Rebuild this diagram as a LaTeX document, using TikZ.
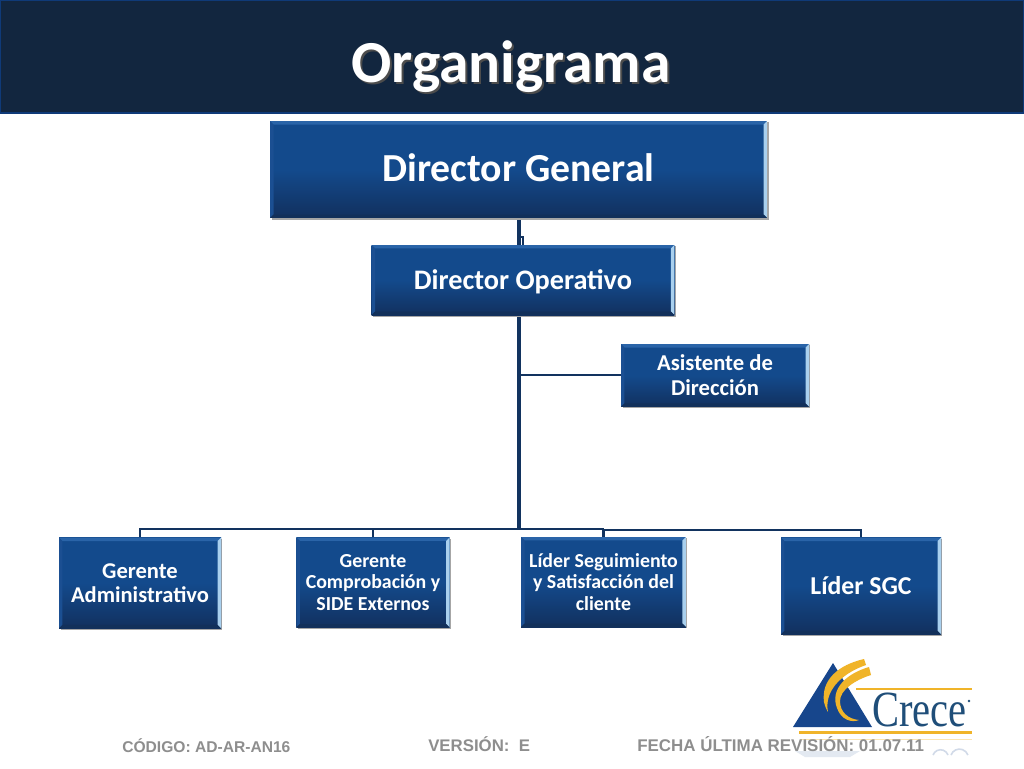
\documentclass[tikz,border=0pt]{standalone}
\usepackage{fontspec}
\setmainfont{Carlito}
\newfontfamily\footfont{Liberation Sans}
\newfontfamily\logofont{Liberation Serif}
\usetikzlibrary{shadows,calc}
\definecolor{band}{HTML}{12263F}
\definecolor{bandedge}{HTML}{0F3A78}
\definecolor{boxmid}{HTML}{134A8C}
\definecolor{boxbot}{HTML}{12305E}
\definecolor{bevtop}{HTML}{2A64A8}
\definecolor{bevright}{HTML}{A9D0EE}
\definecolor{bevleft}{HTML}{1B4F92}
\definecolor{bevbot}{HTML}{12305A}
\definecolor{conn}{HTML}{12335F}
\definecolor{foot}{HTML}{8E8E8E}
\definecolor{logoblue}{HTML}{17468C}
\definecolor{logogold}{HTML}{F0B429}
\definecolor{logotext}{HTML}{1F4E79}
\tikzset{
  x=0.75pt,y=-0.75pt,
  orgbox/.style={
    rectangle,align=center,text=white,font=\bfseries,inner sep=0pt,
    top color=boxmid,bottom color=boxbot,middle color=boxmid,
    path picture={
      \coordinate (SW) at (path picture bounding box.south west);
      \coordinate (NE) at (path picture bounding box.north east);
      \coordinate (NW) at (path picture bounding box.north west);
      \coordinate (SE) at (path picture bounding box.south east);
      \fill[bevtop] (NW) -- (NE) -- ($(NE)+(-2.6pt,-2.6pt)$) -- ($(NW)+(2.6pt,-2.6pt)$) -- cycle;
      \fill[bevright] (NE) -- (SE) -- ($(SE)+(-2.6pt,2.6pt)$) -- ($(NE)+(-2.6pt,-2.6pt)$) -- cycle;
      \fill[bevleft] (NW) -- (SW) -- ($(SW)+(2.6pt,2.6pt)$) -- ($(NW)+(2.6pt,-2.6pt)$) -- cycle;
      \fill[bevbot] (SW) -- (SE) -- ($(SE)+(-2.6pt,2.6pt)$) -- ($(SW)+(2.6pt,2.6pt)$) -- cycle;
    }},
  boxshade/.style={fill=black!35,draw=none},
  link/.style={draw=conn,line width=2.3pt},
  thinlink/.style={draw=conn,line width=2pt},
  foottext/.style={font=\footfont\bfseries\fontsize{11.7}{14}\selectfont,text=foot,anchor=base west,inner sep=0pt},
}
\begin{document}
\begin{tikzpicture}
\useasboundingbox (0,0) rectangle (1024,768);
\fill[white] (0,0) rectangle (1024,768);
% title band
\fill[band,draw=bandedge,line width=1pt] (0.5,0.5) rectangle (1023.5,113);
\node[text=black!70,font=\bfseries\fontsize{44.7}{52}\selectfont,inner sep=0pt] at (513,69) {Organigrama};
\node (title) [text=white,font=\bfseries\fontsize{44.7}{52}\selectfont,inner sep=0pt] at (511,67) {Organigrama};
% connectors (under the boxes)
\coordinate (busl) at (140,529);
\coordinate (busm) at (519,529);
\coordinate (dgfoot) at (519,218);
\coordinate (dotop) at (519,245);
\coordinate (jog) at (519,237);
\coordinate (jogr) at (523,237);
\coordinate (jogd) at (523,245);
\coordinate (dofoot) at (519,315);
\coordinate (tee) at (519,375);
\coordinate (adw) at (621,375);
\coordinate (gatop) at (140,538);
\coordinate (gctop) at (373,538);
\coordinate (gcbus) at (373,529);
\coordinate (lstop) at (603.5,537);
\coordinate (lsbus) at (603.5,529);
\coordinate (lsbusr) at (603.5,530);
\coordinate (sgtop) at (861,538);
\coordinate (sgbus) at (861,530);
\draw[link] (dgfoot) -- (dotop);
\draw[thinlink,line width=1.2pt] (jog) -- (jogr) -- (jogd);
\draw[link] (dofoot) -- (busm);
\draw[thinlink] (tee) -- (adw);
\draw[thinlink] (gatop) -- (busl) -- (lsbus);
\draw[thinlink] (lsbusr) -- (sgbus) -- (sgtop);
\draw[thinlink] (gctop) -- (gcbus);
\draw[thinlink] (lstop) -- (lsbus);
% soft shadows
\fill[boxshade] (272,122) rectangle (769,219.5);
\fill[boxshade] (373,246) rectangle (676,317);
\fill[boxshade] (623,345) rectangle (810,408);
\fill[boxshade] (61,539) rectangle (222,630);
\fill[boxshade] (298,539) rectangle (451,629);
\fill[boxshade] (523,538) rectangle (687,628);
\fill[boxshade] (783,539) rectangle (942,636);
% boxes
\node (dg) [orgbox,minimum width=372.7pt,minimum height=72.7pt,font=\bfseries\fontsize{29.8}{34}\selectfont] at (518.5,169.5) {Director General\rule[-3pt]{0pt}{3pt}};
\node (do) [orgbox,minimum width=227pt,minimum height=52.5pt,font=\bfseries\fontsize{21.2}{24}\selectfont] at (523,280) {\rule{0pt}{17pt}Director Operativo};
\node (ad) [orgbox,minimum width=141pt,minimum height=47pt,font=\bfseries\fontsize{17}{18.8}\selectfont] at (715,375.5) {Asistente de\\Dirección};
\node (ga) [orgbox,minimum width=121.5pt,minimum height=68pt,font=\bfseries\fontsize{16.9}{18}\selectfont] at (140,583) {Gerente\\Administrativo};
\node (gc) [orgbox,minimum width=115pt,minimum height=67.5pt,font=\bfseries\fontsize{14.9}{16.4}\selectfont] at (373,582.5) {Gerente\\Comprobación y\\SIDE Externos};
\node (ls) [orgbox,minimum width=123.5pt,minimum height=67.5pt,font=\bfseries\fontsize{14.9}{16.2}\selectfont] at (603.5,582) {Líder Seguimiento\\y Satisfacción del\\cliente};
\node (sg) [orgbox,minimum width=120pt,minimum height=72.5pt,font=\bfseries\fontsize{19.3}{22}\selectfont] at (861,586) {Líder SGC};
% logo
\fill[logoblue] (793,727) -- (833,663) -- (872,727) -- cycle;
\fill[logogold] (864,659) .. controls (838,665) and (821,680) .. (824,702) .. controls (825,706) and (826,709) .. (828,712) .. controls (824,692) and (840,674) .. (866,665) -- cycle;
\fill[logogold] (869,667) .. controls (845,674) and (830,690) .. (837,708) .. controls (841,720) and (852,723) .. (859,720) .. controls (848,719) and (840,712) .. (840,701) .. controls (840,690) and (855,680) .. (871,675) -- cycle;
\fill[logogold] (856,687.5) rectangle (972,689.5);
\fill[logogold] (799,731) rectangle (972,733.5);
\fill[logogold!35] (800,739) rectangle (972,740);
\fill[logoblue!12] (795,751) -- (860,751) -- (850,757) -- (805,757) -- cycle;
\draw[logoblue!20,line width=1.2pt] (933,755) arc[start angle=200,end angle=340,radius=8];
\draw[logoblue!20,line width=1.2pt] (951,755) arc[start angle=200,end angle=340,radius=9];
\node (logo) [font=\logofont\fontsize{38}{40}\selectfont,text=logotext,inner sep=0pt,anchor=base west,xscale=0.8] at (872,726) {Crece};
\fill[logotext] (969,701) circle[radius=1.3];
% footer
\node (f1) [foottext] at (122,752) {CÓDIGO: AD-AR-AN16};
\node (f2) [foottext,font=\footfont\bfseries\fontsize{12.6}{14}\selectfont] at (428,751) {VERSIÓN:\ \ E};
\node (f3) [foottext,font=\footfont\bfseries\fontsize{12.7}{14}\selectfont] at (637,751) {FECHA ÚLTIMA REVISIÓN: 01.07.11};
\end{tikzpicture}
\end{document}
